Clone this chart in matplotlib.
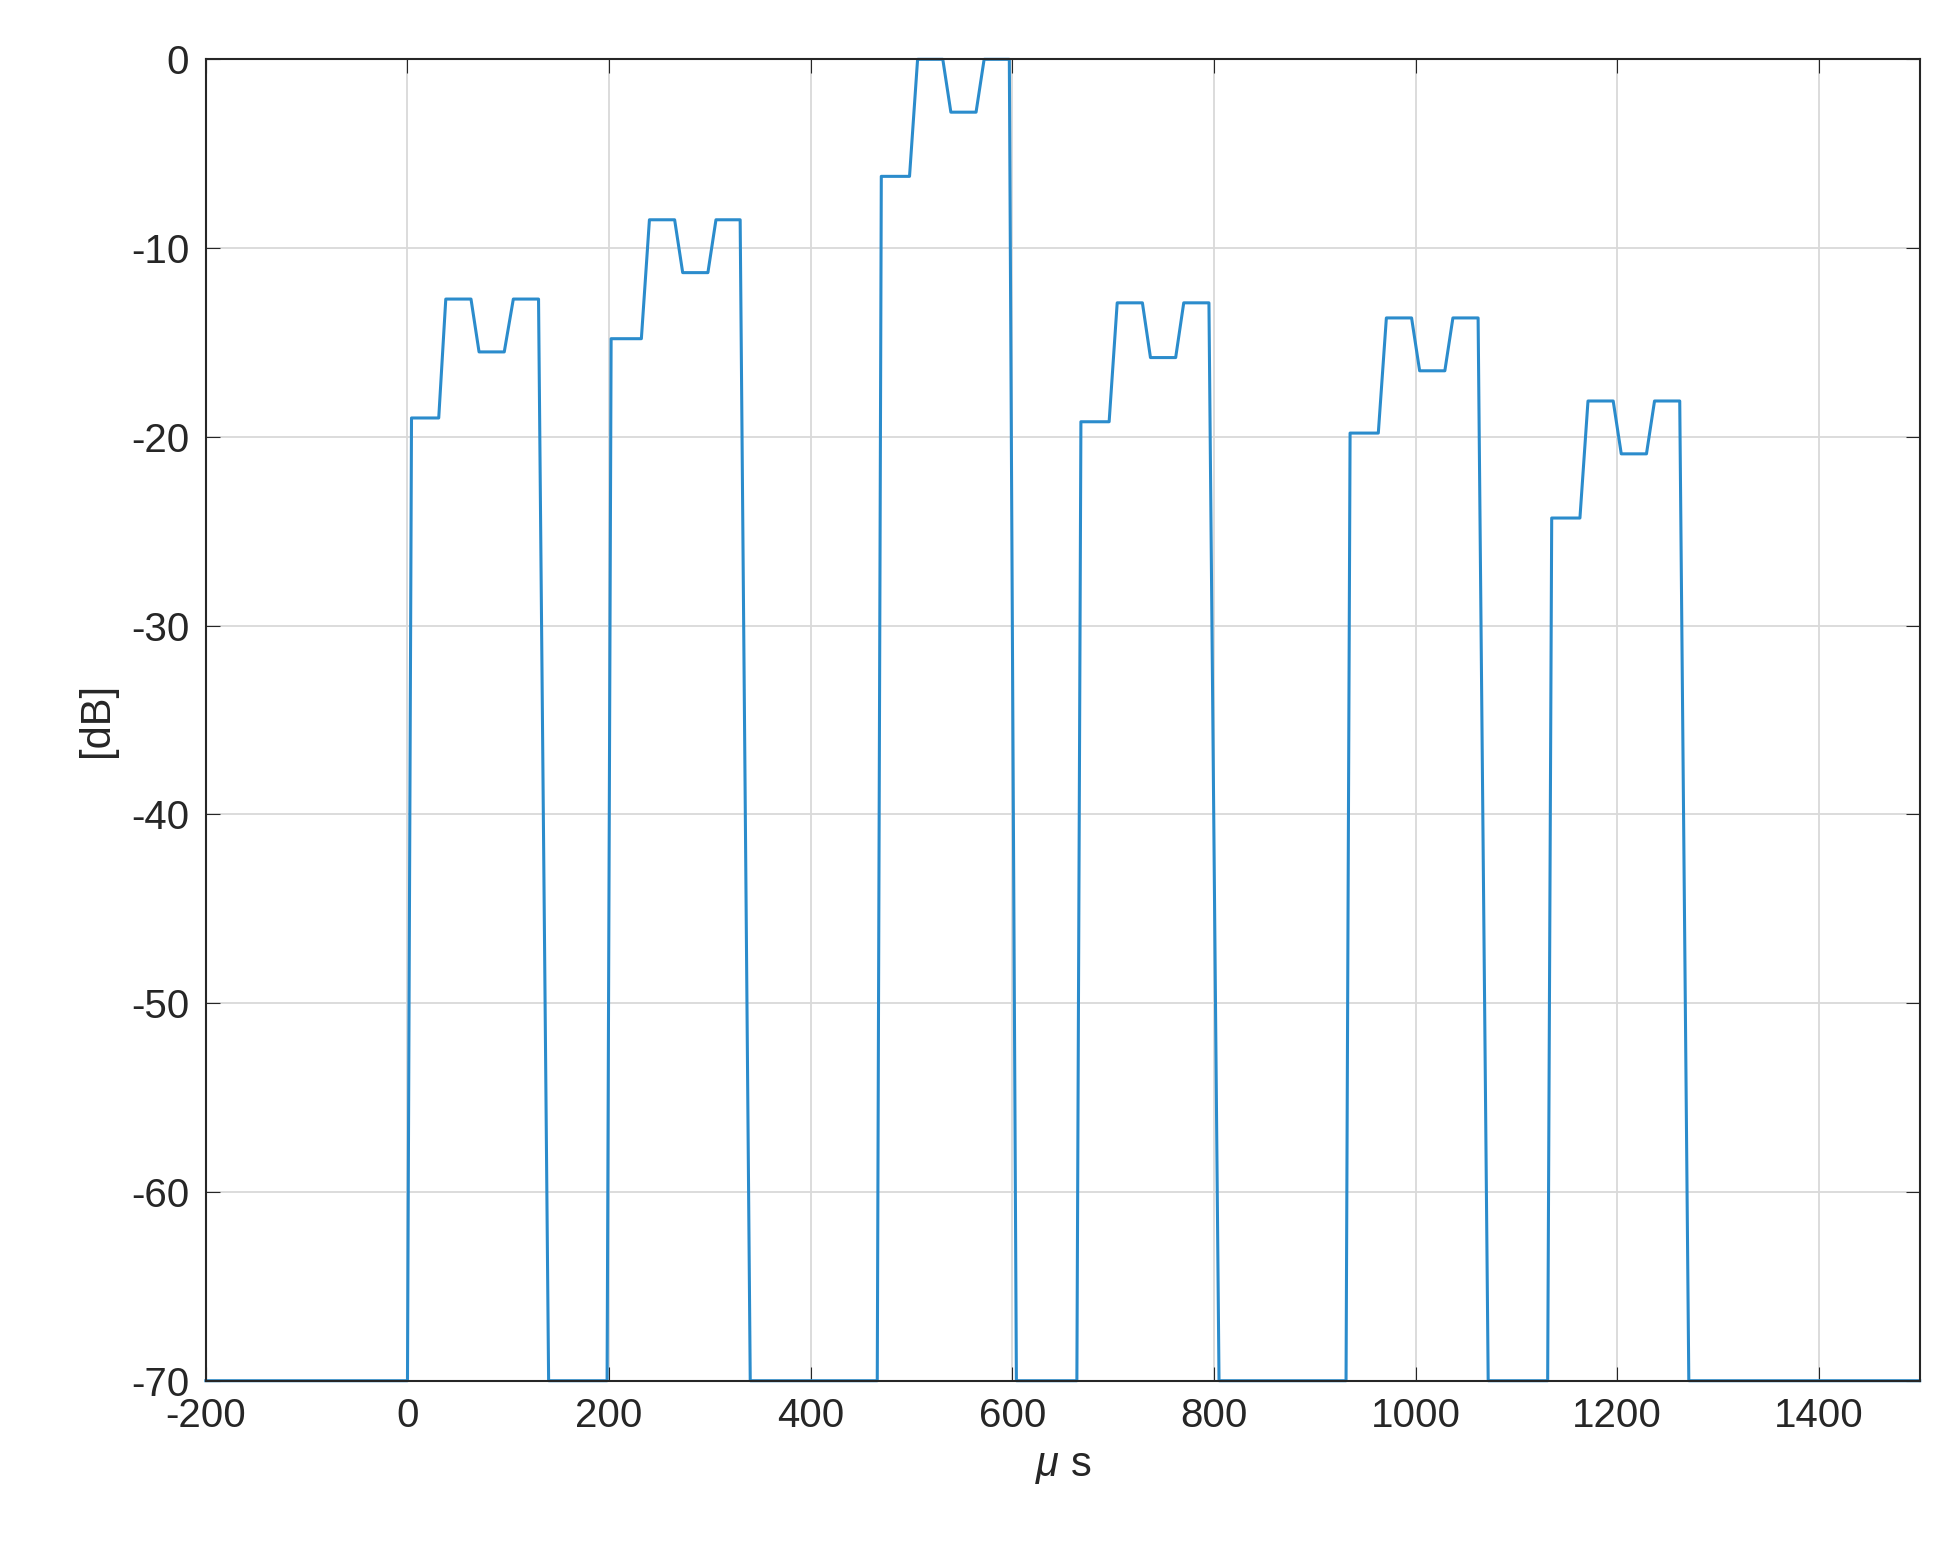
import matplotlib
matplotlib.use("Agg")
import matplotlib.pyplot as plt
plt.rcParams['axes.unicode_minus'] = False
plt.rcParams['font.family'] = ['Liberation Sans', 'DejaVu Sans']
plt.rcParams['mathtext.fontset'] = 'custom'
plt.rcParams['mathtext.it'] = 'Liberation Sans:italic'

t = [-200, 0, 4, 31, 38, 63, 71, 96, 105, 130, 140,
     198, 202, 232, 240, 265, 273, 298, 306, 330, 340,
     466, 470, 498, 506, 531, 539, 564, 572, 597, 604,
     664, 668, 696, 704, 729, 737, 762, 770, 795, 805,
     931, 935, 963, 971, 996, 1004, 1029, 1037, 1062, 1072,
     1131, 1135, 1163, 1171, 1196, 1204, 1229, 1237, 1262, 1271,
     1500]
db = [-70, -70, -19.0, -19.0, -12.7, -12.7, -15.5, -15.5, -12.7, -12.7, -70,
      -70, -14.8, -14.8, -8.5, -8.5, -11.3, -11.3, -8.5, -8.5, -70,
      -70, -6.2, -6.2, 0.0, 0.0, -2.8, -2.8, 0.0, 0.0, -70,
      -70, -19.2, -19.2, -12.9, -12.9, -15.8, -15.8, -12.9, -12.9, -70,
      -70, -19.8, -19.8, -13.7, -13.7, -16.5, -16.5, -13.7, -13.7, -70,
      -70, -24.3, -24.3, -18.1, -18.1, -20.9, -20.9, -18.1, -18.1, -70,
      -70]
xticks = list(range(-200, 1401, 200))
yticks = list(range(-70, 1, 10))

fig = plt.figure(figsize=(19.42, 15.61), dpi=100)
ax = fig.add_axes([0.106, 0.1155, 0.8825, 0.8465])
ax.plot(t, db, color='#2b8ccc', lw=2.2, clip_on=False)
ax.set_xlim(-200, 1500)
ax.set_ylim(-70, 0)
ax.set_xticks(xticks)
ax.set_yticks(yticks)
ax.grid(True, color='#d9d9d9', lw=1.3)
ax.set_axisbelow(True)
ax.tick_params(labelsize=29, colors='#262626', direction='in', length=10, top=True, right=True, pad=12)
for s in ax.spines.values():
    s.set_color('#262626'); s.set_linewidth(1.5)
ax.set_xlabel(r'$\mu$ s', fontsize=30, color='#262626', labelpad=8)
ax.set_ylabel('[dB]', fontsize=30, color='#262626', labelpad=10)
fig.savefig('out.png', dpi=100)
